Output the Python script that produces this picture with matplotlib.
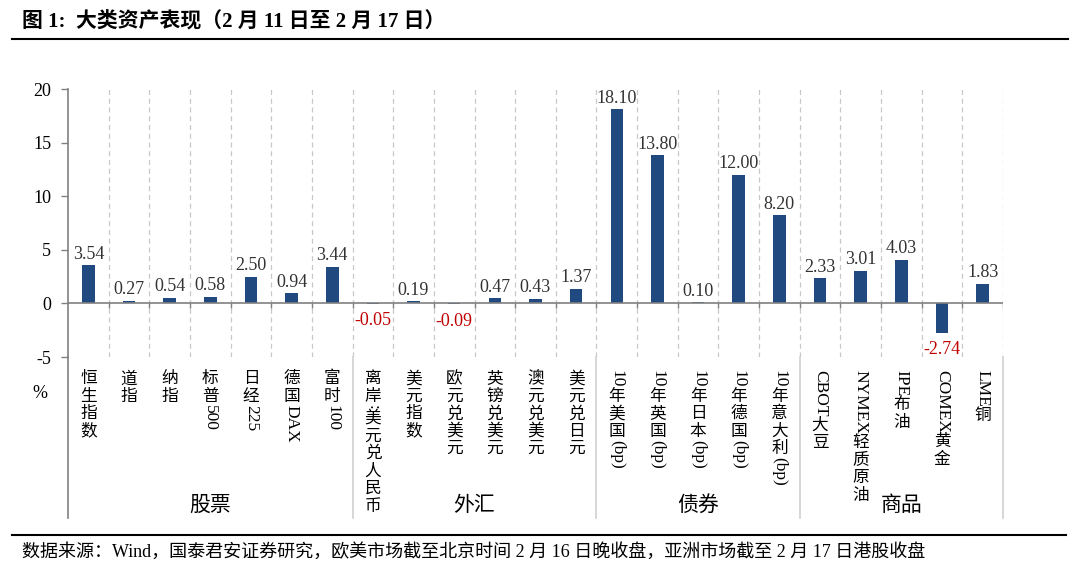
import matplotlib
matplotlib.use("Agg")
import matplotlib.pyplot as plt
from matplotlib.lines import Line2D
from matplotlib.transforms import offset_copy

plt.rcParams["axes.unicode_minus"] = False

# ---- data ----
categories = ["恒生指数", "道指", "纳指", "标普500", "日经225", "德国DAX", "富时100",
              "离岸:美元兑人民币", "美元指数", "欧元兑美元", "英镑兑美元", "澳元兑美元", "美元兑日元",
              "10年美国(bp)", "10年英国(bp)", "10年日本(bp)", "10年德国(bp)", "10年意大利(bp)",
              "CBOT大豆", "NYMEX轻质原油", "IPE布油", "COMEX黄金", "LME铜"]
values = [3.54, 0.27, 0.54, 0.58, 2.50, 0.94, 3.44,
          -0.05, 0.19, -0.09, 0.47, 0.43, 1.37,
          18.10, 13.80, 0.10, 12.00, 8.20,
          2.33, 3.01, 4.03, -2.74, 1.83]
groups = ["股票", "外汇", "债券", "商品"]
group_sizes = [7, 6, 5, 5]

title = "图 1:  大类资产表现（2 月 11 日至 2 月 17 日）"
source = "数据来源：Wind，国泰君安证券研究，欧美市场截至北京时间 2 月 16 日晚收盘，亚洲市场截至 2 月 17 日港股收盘"

SERIF = ["Liberation Serif", "Noto Sans CJK SC"]
CJK = ["Noto Sans CJK SC", "Liberation Serif"]
BAR = "#20497F"
GRAY = "#808080"
LIGHT = "#C8C8C8"

W, H = 1080, 575
fig = plt.figure(figsize=(W / 100, H / 100), dpi=100)
ax_l, ax_r, ax_t, ax_b = 68, 1003, 89, 357
ax = fig.add_axes([ax_l / W, 1 - ax_b / H, (ax_r - ax_l) / W, (ax_b - ax_t) / H])

n = len(values)
x = list(range(n))
ax.bar(x, values, width=0.31, color=BAR, zorder=3)
ax.set_xlim(-0.5, n - 0.5)
ax.set_ylim(-5, 20)
ax.set_yticks([-5, 0, 5, 10, 15, 20])
ax.set_xticks([])
for s in ["top", "right", "bottom"]:
    ax.spines[s].set_visible(False)
ax.spines["left"].set_color(GRAY)
ax.spines["left"].set_linewidth(1.2)
ax.tick_params(axis="y", colors=GRAY, length=5, width=1, pad=7, labelcolor="black", labelsize=13)
for lb in ax.get_yticklabels():
    lb.set_family(SERIF)

# zero line + small ticks + dashed separators
ax.axhline(0, color=GRAY, lw=1.2, zorder=4)
bounds = [i + 0.5 for i in range(n)]
ax.vlines(bounds, -5, 20, colors=LIGHT, linestyles=(0, (4, 3)), lw=0.9, zorder=1)
ax.vlines(bounds, -0.45, 0, colors=GRAY, lw=1, zorder=4)

# value labels
for xi, v in zip(x, values):
    if v >= 0:
        ax.annotate(f"{v:.2f}", (xi, v), xytext=(0, 2), textcoords="offset points",
                    ha="center", va="bottom", fontsize=13, color="#333333", family=SERIF)
    else:
        ax.annotate(f"{v:.2f}", (xi, v), xytext=(0, -6), textcoords="offset points",
                    ha="center", va="top", fontsize=13, color="#C00000", family=SERIF)

# lines below the axes: y axis extension and group separators
depth = (518 - ax_b) / (ax_b - ax_t)
xt = ax.get_xaxis_transform()
ax.plot([-0.5, -0.5], [0, -depth], color=GRAY, lw=1.2, transform=xt, clip_on=False)
edge = -0.5
centers = []
for size in group_sizes:
    centers.append(edge + size / 2)
    edge += size
    ax.plot([edge, edge], [0, -depth], color="#D0D0D0", lw=1.2, transform=xt, clip_on=False)

# vertical category labels: CJK upright, latin runs rotated
renderer = fig.canvas.get_renderer()
step = 17.5


def is_cjk(ch):
    return ord(ch) > 0x2E80


def vlabel(xi, s, top):
    runs = []
    for ch in s:
        c = is_cjk(ch)
        if runs and runs[-1][1] == c and not c:
            runs[-1][0] += ch
        else:
            runs.append([ch, c])
    cursor = top
    for run, c in runs:
        if c:
            ax.text(xi, 0, run, ha="center", va="center", fontsize=12, family=CJK,
                    transform=offset_copy(xt, fig=fig, y=-(cursor + step / 2), units="dots"))
            cursor += step
        else:
            t = ax.text(xi, 0, run, rotation=-90, ha="center", va="center", fontsize=12.5,
                        family=SERIF, transform=xt)
            L = t.get_window_extent(renderer).height
            t.set_transform(offset_copy(xt, fig=fig, y=-(cursor + L / 2), units="dots"))
            cursor += L


for xi, lab in zip(x, categories):
    vlabel(xi, lab, 13)

for c, g in zip(centers, groups):
    ax.text(c, 0, g, ha="center", va="center", fontsize=15, family=CJK,
            transform=offset_copy(xt, fig=fig, y=-148, units="dots"))

fig.text(40 / W, 1 - 393 / H, "%", ha="center", va="center", fontsize=13, family=SERIF)

# title, rules, footer
fig.text(22 / W, 1 - 22 / H, title, ha="left", va="center", fontsize=15, weight="bold", family=SERIF)
fig.add_artist(Line2D([12 / W, 1068 / W], [1 - 39 / H] * 2, color="black", lw=1.5))
fig.add_artist(Line2D([12 / W, 1066 / W], [1 - 535 / H] * 2, color="black", lw=1.5))
fig.text(22 / W, 1 - 552 / H, source, ha="left", va="center", fontsize=13, family=SERIF)

fig.savefig("out.png", dpi=100)
